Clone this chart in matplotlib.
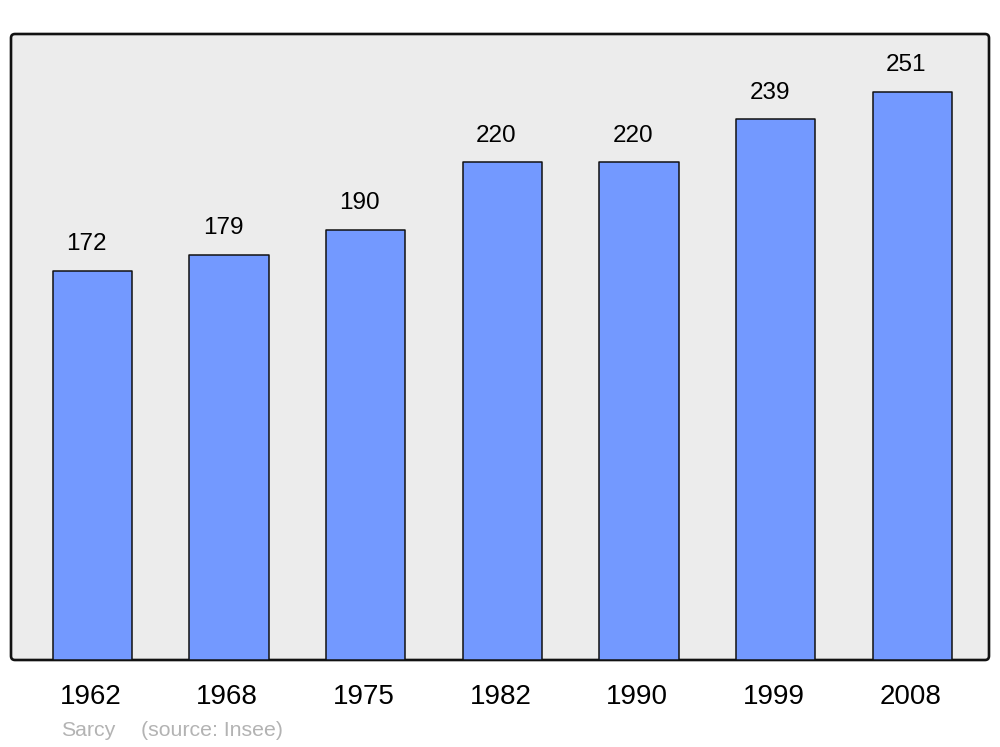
import matplotlib.pyplot as plt
import matplotlib.transforms as mtransforms
from matplotlib.patches import FancyBboxPatch
from matplotlib.transforms import IdentityTransform

plt.rcParams['font.family'] = ['Liberation Sans', 'DejaVu Sans']

years = ["1962", "1968", "1975", "1982", "1990", "1999", "2008"]
population = [172, 179, 190, 220, 220, 239, 251]
commune = "Sarcy"
source = "(source: Insee)"

W, H = 1000, 747
fig = plt.figure(figsize=(W / 100, H / 100), dpi=100)
ax = fig.add_axes([11 / W, 87 / H, 978 / W, 626 / H])
ax.set_facecolor("none")
ax.set_zorder(2)

# rounded frame drawn in pixel space behind the axes
frame = FancyBboxPatch((11, 87), 978, 626, boxstyle="round,pad=0,rounding_size=4",
                       transform=IdentityTransform(), facecolor="#ececec",
                       edgecolor="#111111", linewidth=1.9, zorder=0)
fig.patches.append(frame)

x = range(len(years))
bars = ax.bar(x, population, width=0.58, color="#7399ff", edgecolor="#111111",
              linewidth=1.1, joinstyle="round", zorder=3)

# value labels sit a little left of the bar centre, as in the original
for xi, v in zip(x, population):
    ax.annotate(str(v), (xi, v), xytext=(-4.3, 19), textcoords="offset points",
                ha="center", va="center", fontsize=17.5, color="black")

ax.set_xlim(-0.595, 6.56)
ax.set_ylim(0, 276.5)
ax.set_yticks([])
ax.set_xticks(list(x))
ax.set_xticklabels(years, fontsize=20)
ax.tick_params(axis="x", length=0, pad=17)
shift = mtransforms.ScaledTranslation(-2 / 100, 0, fig.dpi_scale_trans)
for lbl in ax.get_xticklabels():
    lbl.set_transform(lbl.get_transform() + shift)
for s in ax.spines.values():
    s.set_visible(False)

fig.text(61 / W, 1 - 731 / H, commune, fontsize=15.3, color="#b3b3b3",
         ha="left", va="center")
fig.text(141 / W, 1 - 731 / H, source, fontsize=15.3, color="#b3b3b3",
         ha="left", va="center")

fig.savefig("out.png", dpi=100)
